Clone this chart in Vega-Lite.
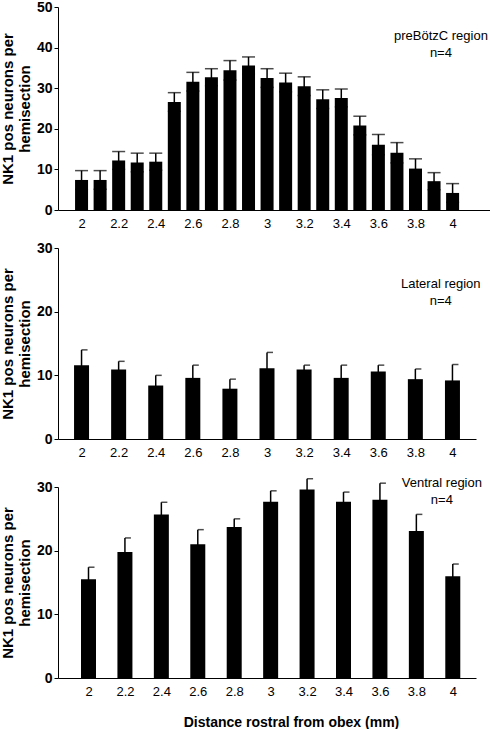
{
  "$schema": "https://vega.github.io/schema/vega-lite/v6.json",
  "padding": {"left": 0, "top": 0, "right": 0, "bottom": 0},
  "background": "white",
  "config": {
    "font": "Liberation Sans",
    "view": {"stroke": null},
    "axis": {
      "grid": false,
      "domainColor": "black",
      "tickColor": "black",
      "labelColor": "black",
      "titleColor": "black",
      "labelFont": "Liberation Sans",
      "titleFont": "Liberation Sans",
      "tickSize": 4,
      "domainWidth": 1,
      "tickWidth": 1
    },
    "axisX": {"labelFontSize": 13, "labelPadding": 3, "labelOverlap": false, "labelFlush": false},
    "axisY": {"labelFontSize": 14, "labelFontWeight": "bold", "labelPadding": 2, "titleFontSize": 15, "titleFontWeight": "bold", "titlePadding": 4}
  },
  "datasets": {
    "pre": [
      {"d": 2.0, "mean": 7.4, "sem": 2.3},
      {"d": 2.1, "mean": 7.4, "sem": 2.3},
      {"d": 2.2, "mean": 12.2, "sem": 2.2},
      {"d": 2.3, "mean": 11.7, "sem": 2.3},
      {"d": 2.4, "mean": 11.9, "sem": 2.1},
      {"d": 2.5, "mean": 26.6, "sem": 2.3},
      {"d": 2.6, "mean": 31.6, "sem": 2.3},
      {"d": 2.7, "mean": 32.7, "sem": 2.1},
      {"d": 2.8, "mean": 34.4, "sem": 2.4},
      {"d": 2.9, "mean": 35.6, "sem": 2.1},
      {"d": 3.0, "mean": 32.5, "sem": 2.3},
      {"d": 3.1, "mean": 31.4, "sem": 2.3},
      {"d": 3.2, "mean": 30.5, "sem": 2.3},
      {"d": 3.3, "mean": 27.3, "sem": 2.3},
      {"d": 3.4, "mean": 27.6, "sem": 2.2},
      {"d": 3.5, "mean": 20.8, "sem": 2.3},
      {"d": 3.6, "mean": 16.1, "sem": 2.5},
      {"d": 3.7, "mean": 14.1, "sem": 2.5},
      {"d": 3.8, "mean": 10.2, "sem": 2.4},
      {"d": 3.9, "mean": 7.1, "sem": 2.1},
      {"d": 4.0, "mean": 4.2, "sem": 2.3}
    ],
    "lat": [
      {"d": 2.0, "mean": 11.6, "sem": 2.4},
      {"d": 2.2, "mean": 10.9, "sem": 1.3},
      {"d": 2.4, "mean": 8.4, "sem": 1.6},
      {"d": 2.6, "mean": 9.6, "sem": 2.0},
      {"d": 2.8, "mean": 7.9, "sem": 1.5},
      {"d": 3.0, "mean": 11.1, "sem": 2.5},
      {"d": 3.2, "mean": 10.9, "sem": 0.7},
      {"d": 3.4, "mean": 9.6, "sem": 2.0},
      {"d": 3.6, "mean": 10.6, "sem": 1.0},
      {"d": 3.8, "mean": 9.4, "sem": 1.6},
      {"d": 4.0, "mean": 9.2, "sem": 2.5}
    ],
    "ven": [
      {"d": 2.0, "mean": 15.5, "sem": 1.9},
      {"d": 2.2, "mean": 19.8, "sem": 2.2},
      {"d": 2.4, "mean": 25.7, "sem": 1.9},
      {"d": 2.6, "mean": 21.0, "sem": 2.3},
      {"d": 2.8, "mean": 23.7, "sem": 1.3},
      {"d": 3.0, "mean": 27.7, "sem": 1.7},
      {"d": 3.2, "mean": 29.6, "sem": 1.7},
      {"d": 3.4, "mean": 27.7, "sem": 1.5},
      {"d": 3.6, "mean": 28.0, "sem": 2.6},
      {"d": 3.8, "mean": 23.1, "sem": 2.6},
      {"d": 4.0, "mean": 16.0, "sem": 1.9}
    ]
  },
  "spacing": 18,
  "vconcat": [
    {
      "spacing": 11,
      "vconcat": [
        {
          "width": 433,
          "height": 203,
          "layer": [
            {
              "data": {"name": "pre"},
              "mark": {"type": "errorbar", "ticks": {"size": 13, "thickness": 1.5, "color": "black"}, "rule": {"strokeWidth": 1.5, "color": "black"}},
              "encoding": {
                "x": {"field": "d", "type": "quantitative", "scale": {"domain": [1.9, 4.18], "nice": false, "zero": false},
                  "axis": {"title": null, "values": [2, 2.1, 2.2, 2.3, 2.4, 2.5, 2.6, 2.7, 2.8, 2.9, 3, 3.1, 3.2, 3.3, 3.4, 3.5, 3.6, 3.7, 3.8, 3.9, 4, 4.1],
                    "labelExpr": "round(datum.value*10) % 2 == 0 ? format(datum.value, '.2~f') : ''",
                    "tickOpacity": {"condition": {"test": "round(datum.value*10) % 2 == 1", "value": 1}, "value": 0}}},
                "y": {"field": "mean", "type": "quantitative", "scale": {"domain": [0, 50], "nice": false},
                  "axis": {"values": [0, 10, 20, 30, 40, 50], "title": ["NK1 pos neurons per", "hemisection"]}},
                "yError": {"field": "sem"}
              }
            },
            {
              "data": {"name": "pre"},
              "mark": {"type": "bar", "orient": "vertical", "width": 13, "color": "black"},
              "encoding": {
                "x": {"field": "d", "type": "quantitative"},
                "y": {"field": "mean", "type": "quantitative"}
              }
            },
            {
              "data": {"values": [{}]},
              "mark": {"type": "text", "align": "center", "baseline": "middle", "fontSize": 13, "lineHeight": 17, "color": "black"},
              "encoding": {
                "x": {"datum": 3.937},
                "y": {"datum": 42.8},
                "text": {"value": ["preBötzC region", "n=4"]}
              }
            }
          ]
        },
        {
          "width": 418,
          "height": 191,
          "layer": [
            {
              "data": {"name": "lat"},
              "mark": {"type": "errorbar", "ticks": {"size": 6, "thickness": 1.5, "color": "black", "xOffset": 3}, "rule": {"strokeWidth": 1.5, "color": "black"}},
              "encoding": {
                "x": {"field": "d", "type": "quantitative", "scale": {"domain": [1.9, 4.1], "nice": false, "zero": false},
                  "axis": {"title": null, "values": [2, 2.1, 2.2, 2.3, 2.4, 2.5, 2.6, 2.7, 2.8, 2.9, 3, 3.1, 3.2, 3.3, 3.4, 3.5, 3.6, 3.7, 3.8, 3.9, 4, 4.1],
                    "labelExpr": "round(datum.value*10) % 2 == 0 ? format(datum.value, '.2~f') : ''",
                    "tickOpacity": {"condition": {"test": "round(datum.value*10) % 2 == 1", "value": 1}, "value": 0}}},
                "y": {"field": "mean", "type": "quantitative", "scale": {"domain": [0, 30], "nice": false},
                  "axis": {"values": [0, 10, 20, 30], "title": ["NK1 pos neurons per", "hemisection"]}},
                "yError": {"field": "sem"}
              }
            },
            {
              "data": {"name": "lat"},
              "mark": {"type": "bar", "orient": "vertical", "width": 15, "color": "black"},
              "encoding": {
                "x": {"field": "d", "type": "quantitative"},
                "y": {"field": "mean", "type": "quantitative"}
              }
            },
            {
              "data": {"values": [{}]},
              "mark": {"type": "text", "align": "center", "baseline": "middle", "fontSize": 13, "lineHeight": 17, "color": "black"},
              "encoding": {
                "x": {"datum": 3.937},
                "y": {"datum": 24.3},
                "text": {"value": ["Lateral region", "n=4"]}
              }
            }
          ]
        }
      ]
    },
    {
      "width": 418,
      "height": 191,
      "layer": [
        {
          "data": {"name": "ven"},
          "mark": {"type": "errorbar", "ticks": {"size": 6, "thickness": 1.5, "color": "black", "xOffset": 3}, "rule": {"strokeWidth": 1.5, "color": "black"}},
          "encoding": {
            "x": {"field": "d", "type": "quantitative", "scale": {"domain": [1.86, 4.1], "nice": false, "zero": false},
              "axis": {"title": "Distance rostral from obex (mm)", "titleFontSize": 14, "titleFontWeight": "bold", "titleX": 233, "titleY": 44, "titleBaseline": "middle", "titleAlign": "center",
                "values": [2, 2.1, 2.2, 2.3, 2.4, 2.5, 2.6, 2.7, 2.8, 2.9, 3, 3.1, 3.2, 3.3, 3.4, 3.5, 3.6, 3.7, 3.8, 3.9, 4, 4.1],
                "labelExpr": "round(datum.value*10) % 2 == 0 ? format(datum.value, '.2~f') : ''",
                "tickOpacity": {"condition": {"test": "round(datum.value*10) % 2 == 1", "value": 1}, "value": 0}}},
            "y": {"field": "mean", "type": "quantitative", "scale": {"domain": [0, 30], "nice": false},
              "axis": {"values": [0, 10, 20, 30], "title": ["NK1 pos neurons per", "hemisection"]}},
            "yError": {"field": "sem"}
          }
        },
        {
          "data": {"name": "ven"},
          "mark": {"type": "bar", "orient": "vertical", "width": 15, "color": "black"},
          "encoding": {
            "x": {"field": "d", "type": "quantitative"},
            "y": {"field": "mean", "type": "quantitative"}
          }
        },
        {
          "data": {"values": [{}]},
          "mark": {"type": "text", "align": "center", "baseline": "middle", "fontSize": 13, "lineHeight": 17, "color": "black"},
          "encoding": {
            "x": {"datum": 3.94},
            "y": {"datum": 30.6},
            "text": {"value": ["Ventral region", "n=4"]}
          }
        }
      ]
    }
  ]
}
